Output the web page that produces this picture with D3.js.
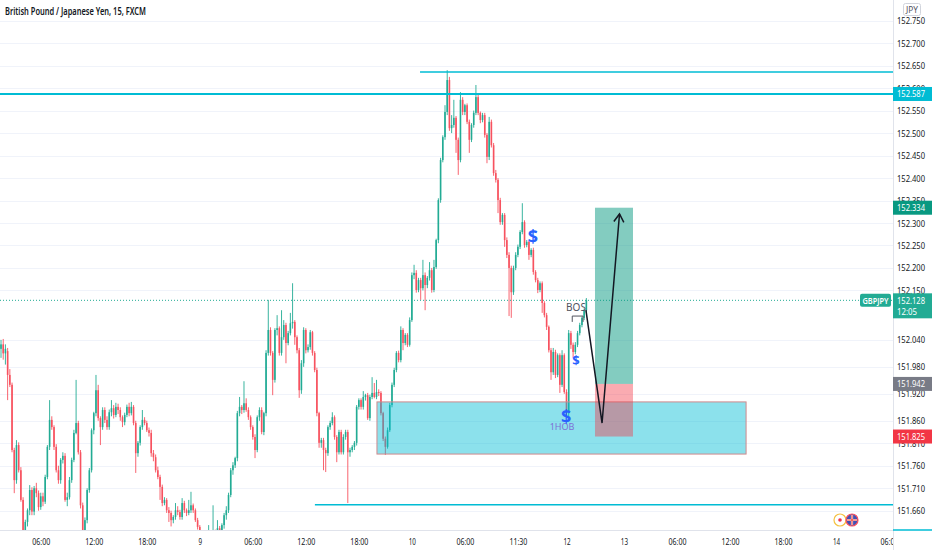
<!DOCTYPE html>
<html>
<head>
<meta charset="utf-8">
<script src="https://cdn.jsdelivr.net/npm/d3@7"></script>
<style>
  body { margin: 0; background: #fff; }
  svg { display: block; font-family: "Noto Sans", Roboto, sans-serif; }
</style>
</head>
<body>
<div id="chart"></div>
<script>
// GBPJPY 15m candles, [open, high, low, close]
const candles = [
  [152.020,152.040,152.000,152.030],[152.030,152.042,151.996,152.010],[152.010,152.030,151.985,152.020],
  [152.015,152.022,151.906,151.962],[151.962,151.975,151.935,151.940],[151.940,151.945,151.790,151.795],
  [151.795,151.800,151.699,151.728],[151.728,151.817,151.720,151.806],[151.806,151.812,151.745,151.750],
  [151.750,151.757,151.680,151.684],[151.684,151.690,151.605,151.617],[151.617,151.640,151.600,151.635],
  [151.635,151.665,151.625,151.661],[151.661,151.717,151.650,151.706],[151.706,151.712,151.650,151.658],
  [151.658,151.715,151.650,151.710],[151.710,151.722,151.690,151.699],[151.699,151.705,151.660,151.668],
  [151.668,151.700,151.662,151.692],[151.692,151.700,151.670,151.680],[151.680,151.740,151.675,151.735],
  [151.735,151.806,151.730,151.802],[151.802,151.906,151.795,151.862],[151.862,151.870,151.840,151.846],
  [151.846,151.850,151.795,151.802],[151.802,151.808,151.745,151.750],[151.750,151.760,151.720,151.728],
  [151.728,151.777,151.720,151.773],[151.773,151.790,151.765,151.782],[151.782,151.788,151.680,151.684],
  [151.684,151.700,151.670,151.690],[151.690,151.735,151.685,151.728],[151.728,151.778,151.722,151.773],
  [151.773,151.840,151.768,151.833],[151.833,151.951,151.830,151.855],[151.855,151.860,151.785,151.790],
  [151.790,151.795,151.665,151.672],[151.672,151.678,151.600,151.612],[151.612,151.645,151.600,151.639],
  [151.639,151.710,151.632,151.706],[151.706,151.755,151.700,151.750],[151.750,151.843,151.745,151.839],
  [151.839,151.880,151.830,151.877],[151.877,151.962,151.870,151.928],[151.928,151.940,151.860,151.866],
  [151.866,151.870,151.806,151.846],[151.846,151.890,151.840,151.884],[151.884,151.890,151.855,151.862],
  [151.862,151.870,151.840,151.846],[151.846,151.885,151.840,151.879],[151.879,151.906,151.870,151.888],
  [151.888,151.895,151.865,151.873],[151.873,151.900,151.868,151.891],[151.891,151.898,151.875,151.884],
  [151.884,151.890,151.860,151.868],[151.868,151.872,151.846,151.857],[151.857,151.878,151.850,151.873],
  [151.873,151.896,151.868,151.891],[151.891,151.900,151.870,151.877],[151.877,151.902,151.872,151.891],
  [151.891,151.895,151.850,151.855],[151.855,151.860,151.744,151.788],[151.788,151.815,151.780,151.811],
  [151.811,151.850,151.805,151.846],[151.846,151.884,151.840,151.862],[151.862,151.868,151.850,151.855],
  [151.855,151.860,151.835,151.839],[151.839,151.845,151.825,151.833],[151.833,151.840,151.780,151.788],
  [151.788,151.795,151.770,151.779],[151.779,151.785,151.745,151.750],[151.750,151.758,151.730,151.735],
  [151.735,151.740,151.684,151.713],[151.713,151.718,151.670,151.677],[151.677,151.690,151.672,151.684],
  [151.684,151.688,151.655,151.661],[151.661,151.668,151.635,151.655],[151.655,151.660,151.625,151.639],
  [151.639,151.650,151.632,151.646],[151.646,151.677,151.640,151.661],[151.661,151.670,151.650,151.657],
  [151.657,151.662,151.640,151.646],[151.646,151.688,151.640,151.677],[151.677,151.682,151.655,151.661],
  [151.661,151.665,151.648,151.655],[151.655,151.684,151.650,151.661],[151.661,151.702,151.655,151.672],
  [151.672,151.676,151.655,151.661],[151.661,151.665,151.635,151.639],[151.639,151.644,151.618,151.624],
  [151.624,151.628,151.590,151.595],[151.595,151.617,151.578,151.583],[151.583,151.600,151.570,151.595],
  [151.595,151.602,151.572,151.577],[151.577,151.628,151.570,151.606],[151.606,151.612,151.590,151.595],
  [151.595,151.672,151.588,151.612],[151.612,151.618,151.592,151.599],[151.599,151.639,151.590,151.621],
  [151.621,151.626,151.600,151.606],[151.606,151.632,151.600,151.628],[151.628,151.655,151.620,151.650],
  [151.650,151.670,151.640,151.661],[151.661,151.700,151.655,151.695],[151.695,151.755,151.690,151.750],
  [151.750,151.768,151.740,151.761],[151.761,151.780,151.755,151.777],[151.777,151.882,151.770,151.877],
  [151.877,151.913,151.870,151.891],[151.891,151.895,151.875,151.884],[151.884,151.948,151.878,151.899],
  [151.899,151.910,151.880,151.884],[151.884,151.890,151.862,151.868],[151.868,151.872,151.840,151.846],
  [151.846,151.850,151.818,151.824],[151.824,151.830,151.777,151.795],[151.795,151.872,151.790,151.868],
  [151.868,151.890,151.860,151.884],[151.884,151.890,151.830,151.835],[151.835,151.880,151.828,151.877],
  [151.877,152.017,151.870,152.011],[152.011,152.129,152.005,152.062],[152.062,152.068,152.005,152.011],
  [152.011,152.015,151.917,151.951],[151.951,152.066,151.945,152.062],[152.062,152.095,152.050,152.066],
  [152.066,152.070,152.005,152.011],[152.011,152.106,152.005,152.046],[152.046,152.084,152.040,152.073],
  [152.073,152.078,151.988,152.033],[152.033,152.060,152.028,152.055],[152.055,152.100,152.050,152.077],
  [152.077,152.166,152.065,152.080],[152.080,152.084,152.029,152.046],[152.046,152.050,152.010,152.017],
  [152.017,152.022,151.911,151.928],[151.928,151.995,151.920,151.988],[151.988,152.068,151.980,152.062],
  [152.062,152.066,152.010,152.017],[152.017,152.030,152.012,152.024],[152.024,152.062,152.018,152.057],
  [152.057,152.060,152.005,152.011],[152.011,152.015,151.968,151.973],[151.973,151.978,151.870,151.877],
  [151.877,151.880,151.800,151.811],[151.811,151.822,151.800,151.817],[151.817,151.822,151.750,151.795],
  [151.795,151.800,151.746,151.788],[151.788,151.850,151.782,151.846],[151.846,151.860,151.840,151.855],
  [151.855,151.879,151.850,151.868],[151.868,151.872,151.818,151.824],[151.824,151.828,151.768,151.790],
  [151.790,151.840,151.785,151.835],[151.835,151.840,151.785,151.790],[151.790,151.830,151.785,151.824],
  [151.824,151.840,151.818,151.835],[151.835,151.840,151.677,151.790],[151.790,151.800,151.780,151.795],
  [151.795,151.806,151.790,151.802],[151.802,151.815,151.795,151.811],[151.811,151.895,151.805,151.891],
  [151.891,151.910,151.885,151.906],[151.906,151.910,151.885,151.891],[151.891,151.926,151.885,151.913],
  [151.913,151.920,151.905,151.917],[151.917,151.922,151.862,151.866],[151.866,151.918,151.860,151.913],
  [151.913,151.957,151.908,151.922],[151.922,151.944,151.910,151.913],[151.913,151.951,151.908,151.924],
  [151.924,151.930,151.915,151.922],[151.922,151.926,151.872,151.877],[151.877,151.880,151.815,151.820],
  [151.820,151.825,151.784,151.802],[151.802,151.845,151.798,151.839],[151.839,151.900,151.835,151.895],
  [151.895,151.945,151.890,151.940],[151.940,151.978,151.935,151.973],[151.973,152.015,151.968,152.011],
  [152.011,152.016,151.990,151.995],[151.995,152.070,151.990,152.062],[152.062,152.066,152.017,152.033],
  [152.033,152.055,152.028,152.051],[152.051,152.055,152.024,152.029],[152.029,152.090,152.025,152.084],
  [152.084,152.190,152.080,152.184],[152.184,152.207,152.175,152.189],[152.189,152.195,152.145,152.151],
  [152.151,152.178,152.146,152.173],[152.173,152.178,152.129,152.155],[152.155,152.218,152.150,152.184],
  [152.184,152.190,152.106,152.162],[152.162,152.182,152.155,152.178],[152.178,152.213,152.172,152.195],
  [152.195,152.200,152.145,152.151],[152.151,152.218,152.146,152.202],[152.202,152.265,152.198,152.262],
  [152.262,152.355,152.255,152.351],[152.351,152.445,152.345,152.440],[152.440,152.495,152.435,152.491],
  [152.491,152.562,152.485,152.547],[152.547,152.640,152.540,152.618],[152.618,152.625,152.505,152.511],
  [152.511,152.540,152.500,152.518],[152.518,152.574,152.512,152.534],[152.534,152.538,152.456,152.485],
  [152.485,152.490,152.407,152.440],[152.440,152.591,152.435,152.574],[152.574,152.580,152.540,152.547],
  [152.547,152.565,152.540,152.562],[152.562,152.566,152.520,152.525],[152.525,152.530,152.456,152.485],
  [152.485,152.522,152.480,152.518],[152.518,152.550,152.512,152.545],[152.545,152.607,152.540,152.580],
  [152.580,152.585,152.540,152.545],[152.545,152.548,152.522,152.529],[152.529,152.545,152.524,152.540],
  [152.540,152.545,152.490,152.496],[152.496,152.500,152.433,152.447],[152.447,152.536,152.440,152.525],
  [152.525,152.530,152.468,152.473],[152.473,152.478,152.405,152.411],[152.411,152.418,152.390,152.396],
  [152.396,152.400,152.322,152.351],[152.351,152.356,152.296,152.302],[152.302,152.322,152.296,152.318],
  [152.318,152.322,152.247,152.262],[152.262,152.268,152.222,152.229],[152.229,152.235,152.093,152.200],
  [152.200,152.205,152.089,152.146],[152.146,152.205,152.140,152.200],[152.200,152.235,152.195,152.229],
  [152.229,152.252,152.224,152.247],[152.247,152.284,152.242,152.280],[152.280,152.344,152.275,152.302],
  [152.302,152.306,152.245,152.251],[152.251,152.262,152.246,152.258],[152.258,152.262,152.218,152.229],
  [152.229,152.244,152.224,152.240],[152.240,152.245,152.185,152.191],[152.191,152.195,152.168,152.173],
  [152.173,152.178,152.144,152.151],[152.151,152.170,152.146,152.166],[152.166,152.170,152.100,152.122],
  [152.122,152.126,152.090,152.095],[152.095,152.100,152.062,152.069],[152.069,152.072,152.012,152.017],
  [152.017,152.022,151.951,151.968],[151.968,152.022,151.962,152.013],[152.013,152.018,151.955,151.962],
  [151.962,152.010,151.957,152.006],[152.006,152.010,151.922,151.940],[151.940,152.017,151.935,152.006],
  [152.006,152.010,151.920,151.924],[151.924,151.930,151.866,151.877],[151.877,152.062,151.870,152.055],
  [152.055,152.060,152.020,152.029],[152.029,152.034,152.000,152.013],[152.013,152.035,152.008,152.029],
  [152.029,152.060,152.024,152.055],[152.055,152.078,152.050,152.073],[152.073,152.092,152.068,152.089],
  [152.089,152.110,152.084,152.106],[152.106,152.133,152.100,152.128]
];

// time axis: bar index of each label
const timeIdx    = [18, 42, 66, 90, 114, 138, 162, 186, 210, 234, 256, 282, 306, 330, 354, 378, 402];
const timeLabels = ["06:00","12:00","18:00","9","06:00","12:00","18:00","10","06:00","11:30","12","13","06:00","12:00","18:00","14","06:00"];

// price axis labels
const priceTicks = [152.750,152.700,152.650,152.600,152.550,152.500,152.450,152.400,152.350,152.300,
  152.250,152.200,152.150,152.040,151.980,151.920,151.860,151.810,151.760,151.710,151.660];

// drawn levels: price and bar index where the line starts
const levelPrices = [152.636, 152.587, 151.673];
const levelStarts = [189.7, -2, 142.1];

const lastPrice = 152.128;
const lastTime = "12:05";

// demand zone [fromBar, toBar, top, bottom]
const zone = [170.2, 337.3, 151.902, 151.786];

// long position
const posBars = [268.9, 286.1];
const posTarget = 152.334, posEntry = 151.942, posStop = 151.825;

// projected path [bar, price]
const arrowPts = [[264.8, 152.106], [272.1, 151.855], [280.0, 152.320]];

// labels on the chart [bar, price, text]
const dollarMarks = [[240.8, 152.267, 18], [260.3, 151.991, 13], [255.8, 151.866, 18]];
const bosLabel = [260.3, 152.111, "BOS"];
const bosLine = [[258.6, 152.080], [258.6, 152.093], [263.5, 152.093], [263.5, 152.080]];
const obLabel = [254.0, 151.844, "1HOB"];

// set the dimensions
const width = 932, height = 550;
const plotRight = 893, plotBottom = 530;

const UP = "#22ab94", DOWN = "#f7525f", CYAN = "#00bcd4";

const svg = d3.select("#chart").append("svg")
    .attr("width", width)
    .attr("height", height);

const x = d3.scaleLinear().domain([0, 402]).range([1, 889]);
const y = d3.scaleLinear().domain([151.66, 152.75]).range([510.7, 20.7]);

svg.append("defs").append("clipPath").attr("id", "plot")
  .append("rect").attr("x", 0).attr("y", 0).attr("width", plotRight).attr("height", plotBottom);

// grid
svg.append("g").selectAll("line").data(priceTicks).join("line")
    .attr("x1", 0).attr("x2", plotRight)
    .attr("y1", d => Math.round(y(d)) + 0.5).attr("y2", d => Math.round(y(d)) + 0.5)
    .attr("stroke", "#f0f3fa");

const plot = svg.append("g").attr("clip-path", "url(#plot)");

// candles
const bars = plot.append("g").selectAll("g").data(candles).join("g");
bars.append("line")
    .attr("x1", (d, i) => x(i)).attr("x2", (d, i) => x(i))
    .attr("y1", d => y(d[1])).attr("y2", d => y(d[2]))
    .attr("stroke", d => d[3] >= d[0] ? UP : DOWN)
    .attr("stroke-width", 0.9);
bars.append("rect")
    .attr("x", (d, i) => x(i) - 0.8)
    .attr("width", 1.6)
    .attr("y", d => y(Math.max(d[0], d[3])))
    .attr("height", d => Math.max(1, Math.abs(y(d[0]) - y(d[3]))))
    .attr("fill", d => d[3] >= d[0] ? UP : DOWN);

// demand zone
plot.append("rect")
    .attr("x", x(zone[0])).attr("width", x(zone[1]) - x(zone[0]))
    .attr("y", y(zone[2])).attr("height", y(zone[3]) - y(zone[2]))
    .attr("fill", "rgba(0,188,212,0.45)")
    .attr("stroke", "#d08a8c").attr("stroke-width", 1);

// levels
plot.append("g").selectAll("line").data(levelPrices).join("line")
    .attr("x1", (d, i) => x(levelStarts[i])).attr("x2", plotRight)
    .attr("y1", d => y(d)).attr("y2", d => y(d))
    .attr("stroke", CYAN)
    .attr("stroke-width", (d, i) => i === 1 ? 2 : 1.5);

// last price line
plot.append("line")
    .attr("x1", 0).attr("x2", plotRight)
    .attr("y1", y(lastPrice)).attr("y2", y(lastPrice))
    .attr("stroke", UP).attr("stroke-width", 1).attr("stroke-dasharray", "1,2");

// long position boxes
plot.append("rect")
    .attr("x", x(posBars[0])).attr("width", x(posBars[1]) - x(posBars[0]))
    .attr("y", y(posTarget)).attr("height", y(posEntry) - y(posTarget))
    .attr("fill", "rgba(8,153,129,0.5)");
plot.append("rect")
    .attr("x", x(posBars[0])).attr("width", x(posBars[1]) - x(posBars[0]))
    .attr("y", y(posEntry)).attr("height", y(posStop) - y(posEntry))
    .attr("fill", "rgba(242,54,69,0.42)");

// arrow
svg.select("defs").append("marker")
    .attr("id", "head").attr("viewBox", "0 0 12 12")
    .attr("refX", 10).attr("refY", 6)
    .attr("markerWidth", 12).attr("markerHeight", 12)
    .attr("markerUnits", "userSpaceOnUse")
    .attr("orient", "auto")
  .append("path").attr("d", "M2,1 L10,6 L2,11")
    .attr("fill", "none").attr("stroke", "#131722").attr("stroke-width", 1.5);

plot.append("path")
    .datum(arrowPts)
    .attr("fill", "none")
    .attr("stroke", "#131722").attr("stroke-width", 1.5)
    .attr("marker-end", "url(#head)")
    .attr("d", d3.line().x(d => x(d[0])).y(d => y(d[1])));

// annotations
plot.append("path")
    .datum(bosLine)
    .attr("fill", "none").attr("stroke", "#50535e").attr("stroke-width", 1)
    .attr("d", d3.line().x(d => x(d[0])).y(d => y(d[1])));
plot.append("text")
    .attr("x", x(bosLabel[0])).attr("y", y(bosLabel[1]))
    .attr("text-anchor", "middle").attr("dominant-baseline", "middle")
    .attr("font-size", 10).attr("fill", "#50535e")
    .text(bosLabel[2]);
plot.append("text")
    .attr("x", x(obLabel[0])).attr("y", y(obLabel[1]))
    .attr("text-anchor", "middle").attr("dominant-baseline", "middle")
    .attr("font-size", 9).attr("fill", "#7e6fd6")
    .text(obLabel[2]);
plot.append("g").selectAll("text").data(dollarMarks).join("text")
    .attr("x", d => x(d[0])).attr("y", d => y(d[1]))
    .attr("text-anchor", "middle").attr("dominant-baseline", "middle")
    .attr("font-size", d => d[2]).attr("font-weight", "bold")
    .attr("fill", "#2962ff")
    .text("$");

// title
svg.append("text")
    .attr("x", 5).attr("y", 15)
    .attr("font-size", 10.5).attr("font-weight", 600).attr("fill", "#131722")
    .attr("textLength", 141).attr("lengthAdjust", "spacingAndGlyphs")
    .text("British Pound / Japanese Yen, 15, FXCM");

// time axis
svg.append("rect").attr("x", 0).attr("y", plotBottom).attr("width", width).attr("height", height - plotBottom).attr("fill", "#fff");
const xAxis = svg.append("g")
    .attr("transform", `translate(0,${plotBottom})`)
    .call(d3.axisBottom(x).tickValues(timeIdx).tickSize(0).tickPadding(8)
      .tickFormat((d, i) => timeLabels[i]));
xAxis.select(".domain").attr("stroke", "#e0e3eb").attr("d", `M0,0.5H${plotRight}`);
xAxis.selectAll("text")
    .attr("font-size", 9.5).attr("fill", "#131722")
    .attr("font-family", "\"Noto Sans\", Roboto, sans-serif")
    .attr("textLength", (d, i) => timeLabels[i].length * 3.6)
    .attr("lengthAdjust", "spacingAndGlyphs");

// price axis
svg.append("rect").attr("x", plotRight).attr("y", 0).attr("width", width - plotRight).attr("height", height).attr("fill", "#fff");
const yAxis = svg.append("g")
    .attr("transform", `translate(${plotRight},0)`)
    .call(d3.axisRight(y).tickValues(priceTicks).tickSize(0).tickPadding(4)
      .tickFormat(d3.format(".3f")));
yAxis.select(".domain").attr("stroke", "#e0e3eb").attr("d", `M0.5,0V${height}`);
yAxis.selectAll("text")
    .attr("font-size", 9.5).attr("fill", "#131722")
    .attr("font-family", "\"Noto Sans\", Roboto, sans-serif")
    .attr("textLength", 28).attr("lengthAdjust", "spacingAndGlyphs");

// currency box
svg.append("rect").attr("x", 903.5).attr("y", 3.5).attr("width", 17).attr("height", 12)
    .attr("fill", "#fff").attr("stroke", "#d1d4dc").attr("rx", 2);
svg.append("text").attr("x", 912).attr("y", 12.5).attr("text-anchor", "middle")
    .attr("font-size", 8).attr("fill", "#50535e")
    .attr("textLength", 12).attr("lengthAdjust", "spacingAndGlyphs").text("JPY");

// coloured price labels
const priceLabels = [
  [levelPrices[1], CYAN], [posTarget, "#089981"], [posEntry, "#787b86"], [posStop, "#f23645"]
];
const pl = svg.append("g").selectAll("g").data(priceLabels).join("g")
    .attr("transform", d => `translate(${plotRight},${y(d[0])})`);
pl.append("rect").attr("x", 0).attr("y", -7).attr("width", width - plotRight).attr("height", 14)
    .attr("fill", d => d[1]);
pl.append("text").attr("x", 4).attr("y", 3.5)
    .attr("font-size", 9.5).attr("fill", "#fff")
    .attr("textLength", 28).attr("lengthAdjust", "spacingAndGlyphs")
    .text(d => d[0].toFixed(3));

// last price label with countdown
const lp = svg.append("g").attr("transform", `translate(${plotRight},${y(lastPrice)})`);
lp.append("rect").attr("x", 0).attr("y", -7).attr("width", width - plotRight).attr("height", 25).attr("fill", UP);
lp.append("text").attr("x", 4).attr("y", 3.5).attr("font-size", 9.5).attr("fill", "#fff")
    .attr("textLength", 28).attr("lengthAdjust", "spacingAndGlyphs").text(lastPrice.toFixed(3));
lp.append("text").attr("x", 4).attr("y", 14.5).attr("font-size", 9.5).attr("fill", "#fff")
    .attr("textLength", 20).attr("lengthAdjust", "spacingAndGlyphs").text(lastTime);
svg.append("rect").attr("x", 860).attr("y", y(lastPrice) - 6.5).attr("width", 31).attr("height", 13)
    .attr("rx", 2).attr("fill", UP);
svg.append("text").attr("x", 875.5).attr("y", y(lastPrice) + 3.3).attr("text-anchor", "middle")
    .attr("font-size", 8.5).attr("font-weight", 600).attr("fill", "#fff")
    .attr("textLength", 26).attr("lengthAdjust", "spacingAndGlyphs").text("GBPJPY");

// small level marker on the axis bottom
svg.append("line").attr("x1", plotRight).attr("x2", width).attr("y1", plotBottom).attr("y2", plotBottom)
    .attr("stroke", CYAN).attr("stroke-width", 1.5);

// event icons
const ev = svg.append("g").attr("transform", "translate(840,520)");
ev.append("circle").attr("r", 6).attr("fill", "#fff").attr("stroke", "#f5c242").attr("stroke-width", 1.2);
ev.append("circle").attr("r", 1.8).attr("fill", "#f23645");
const uk = svg.append("g").attr("transform", "translate(852,520)");
uk.append("circle").attr("r", 6).attr("fill", "#3f51b5").attr("stroke", "#f7525f").attr("stroke-width", 1.2);
uk.append("path").attr("d", "M-5,0H5M0,-5V5").attr("stroke", "#fff").attr("stroke-width", 2.2);
uk.append("path").attr("d", "M-5,0H5M0,-5V5").attr("stroke", "#e53935").attr("stroke-width", 1.1);
</script>
</body>
</html>
